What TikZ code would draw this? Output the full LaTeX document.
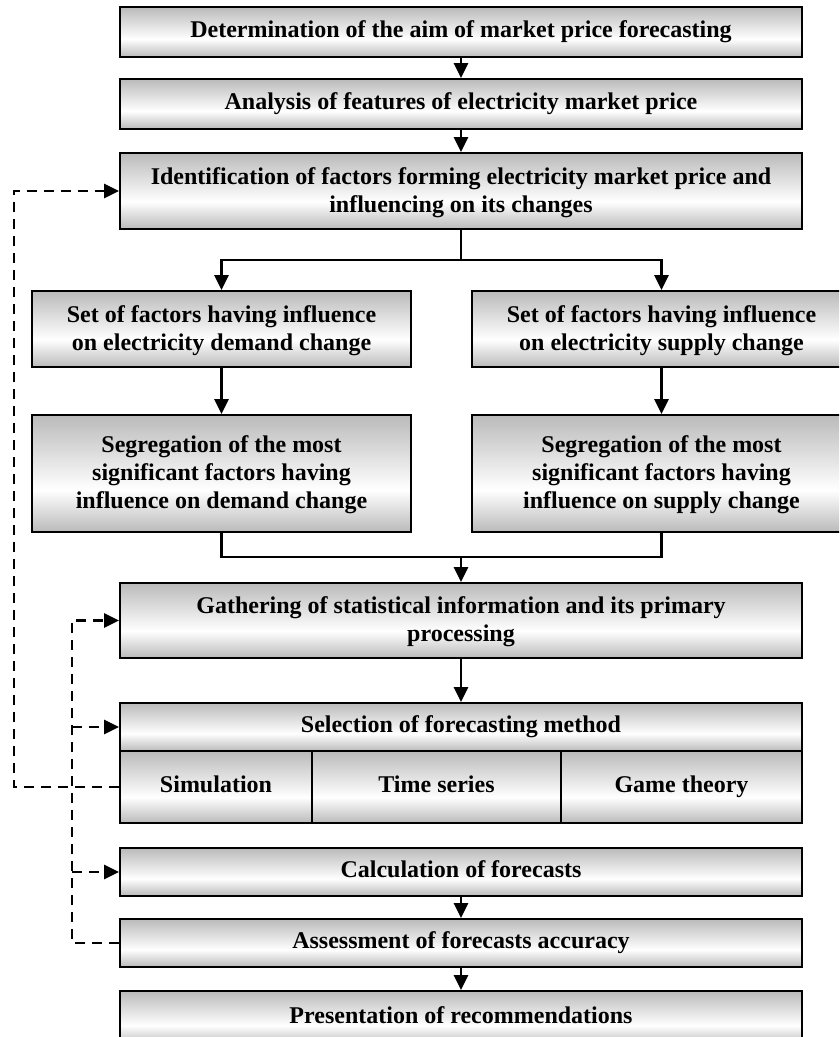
\documentclass[tikz,border=0pt]{standalone}
\usepackage{fontspec}
\setmainfont{Liberation Serif}
\usetikzlibrary{arrows.meta}
\definecolor{shgray}{gray}{0.73}
\pgfdeclareverticalshading{boxshade}{100bp}{color(0bp)=(shgray); color(25bp)=(shgray); color(43bp)=(white); color(75bp)=(shgray); color(100bp)=(shgray)}
\tikzset{
  box/.style={draw=black, line width=1.8pt, shading=boxshade, align=center, inner sep=0pt,
    font=\bfseries\fontsize{24}{28}\selectfont},
  tip/.style={-{Triangle[length=15pt,width=14pt]}},
  conn/.style={line width=2.5pt},
  dconn/.style={line width=2.5pt, dash pattern=on 10pt off 7pt},
}
\newcommand\bx[6]{\node[box, minimum width={(#4-#2)*1pt}, minimum height={(#5-#3)*1pt}] (#1) at ({(#2+#4)/2},{-(#3+#5)/2}) {\strut #6};}
\begin{document}
\begin{tikzpicture}[x=1pt,y=1pt]
\useasboundingbox (0,0) rectangle (839,-1037);
\clip (0,0) rectangle (839,-1037);
\bx{b1}{120}{7}{802}{57}{Determination of the aim of market price forecasting}
\bx{b2}{120}{79}{802}{129}{Analysis of features of electricity market price}
\bx{b3}{120}{153}{802}{229}{Identification of factors forming electricity market price and\\influencing on its changes}
\bx{sl1}{32}{291}{411}{367}{Set of factors having influence\\on electricity demand change}
\bx{sr1}{472}{291}{851}{367}{Set of factors having influence\\on electricity supply change}
\bx{sl2}{32}{415}{411}{532}{Segregation of the most\\significant factors having\\influence on demand change}
\bx{sr2}{472}{415}{851}{532}{Segregation of the most\\significant factors having\\influence on supply change}
\bx{g}{120}{583}{802}{658}{Gathering of statistical information and its primary\\processing}
\bx{selh}{120}{703}{802}{751}{Selection of forecasting method}
\bx{c1}{120}{751}{312}{823}{Simulation}
\bx{c2}{312}{751}{561}{823}{Time series}
\bx{c3}{561}{751}{802}{823}{Game theory}
\bx{calc}{120}{848}{802}{896}{Calculation of forecasts}
\bx{ass}{120}{919}{802}{967}{Assessment of forecasts accuracy}
\bx{pres}{120}{991}{802}{1045}{Presentation of recommendations}
% solid connectors
\draw[conn,tip] (b1.south) -- (b2.north);
\draw[conn,tip] (b2.south) -- (b3.north);
\coordinate (split) at (461,-260);
\draw[conn] (b3.south) -- (split);
\draw[conn,tip] (split) -| (sl1.north);
\draw[conn,tip] (split) -| (sr1.north);
\draw[conn,tip] (sl1.south) -- (sl2.north);
\draw[conn,tip] (sr1.south) -- (sr2.north);
\coordinate (join) at (461,-557);
\draw[conn] (sl2.south) |- (join) -| (sr2.south);
\draw[conn,tip] (join) -- (g.north);
\draw[conn,tip] (g.south) -- (selh.north);
\draw[conn,tip] (calc.south) -- (ass.north);
\draw[conn,tip] (ass.south) -- (pres.north);
% dashed feedback
\coordinate (o1) at (14,-787);
\coordinate (o2) at (14,-191);
\draw[dconn,tip] (c1.west) -- (o1) -- (o2) -- (b3.west);
\coordinate (i1) at (72,-943);
\coordinate (i2) at (72,-620.5);
\draw[dconn,tip] (ass.west) -- (i1) -- (i2) -- (g.west);
\coordinate (i3) at (72,-727);
\coordinate (i4) at (72,-872);
\draw[dconn,tip] (i3) -- (selh.west);
\draw[dconn,tip] (i4) -- (calc.west);
\end{tikzpicture}
\end{document}
